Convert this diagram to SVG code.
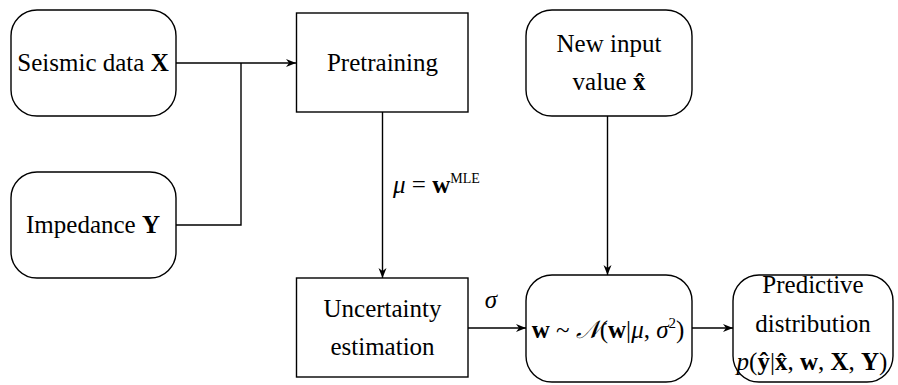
<svg xmlns="http://www.w3.org/2000/svg" width="898" height="385" viewBox="0 0 898 385">
<defs>
<marker id="arr" viewBox="0 0 10 10" refX="10" refY="5" markerWidth="10" markerHeight="10" markerUnits="userSpaceOnUse" orient="auto">
<path d="M0,1 L10,5 L0,9 L3,5 Z" fill="#000"/>
</marker>
</defs>
<style>
.box{fill:#fff;stroke:#000;stroke-width:1.4}
.c{fill:none;stroke:#000;stroke-width:1.4}
</style>
<rect width="898" height="385" fill="#fff"/>
<g id="connectors">
<path class="c" d="M176,63 H296" marker-end="url(#arr)"/>
<path class="c" d="M176,225 H241 V63"/>
<path class="c" d="M382.5,112 V278" marker-end="url(#arr)"/>
<path class="c" d="M468,328 H526" marker-end="url(#arr)"/>
<path class="c" d="M607.5,116 V275" marker-end="url(#arr)"/>
<path class="c" d="M692,328 H733" marker-end="url(#arr)"/>
<text font-family="Liberation Serif" font-size="25" x="393" y="193"><tspan font-style="italic">μ</tspan> = <tspan font-weight="bold">w</tspan><tspan font-size="14" dy="-10">MLE</tspan></text>
<text font-family="Liberation Serif" font-size="25" text-anchor="middle" font-style="italic" x="491" y="308">σ</text>
</g>
<g id="seismic">
<rect class="box" x="11" y="10" width="165" height="106" rx="26"/>
<text font-family="Liberation Serif" font-size="25" text-anchor="middle" x="93" y="71">Seismic data <tspan font-weight="bold">X</tspan></text>
</g>
<g id="impedance">
<rect class="box" x="11" y="172" width="165" height="106" rx="26"/>
<text font-family="Liberation Serif" font-size="25" text-anchor="middle" x="93" y="233">Impedance <tspan font-weight="bold">Y</tspan></text>
</g>
<g id="pretraining">
<rect class="box" x="296.5" y="13" width="171.5" height="99"/>
<text font-family="Liberation Serif" font-size="25" text-anchor="middle" x="382.5" y="71">Pretraining</text>
</g>
<g id="uncertainty">
<rect class="box" x="296.5" y="278" width="171.5" height="99"/>
<text font-family="Liberation Serif" font-size="25" text-anchor="middle" x="382.5" y="317">Uncertainty</text>
<text font-family="Liberation Serif" font-size="25" text-anchor="middle" x="382.5" y="355">estimation</text>
</g>
<g id="newinput">
<rect class="box" x="526" y="10" width="166" height="106" rx="26"/>
<text font-family="Liberation Serif" font-size="25" text-anchor="middle" x="609" y="52">New input</text>
<text font-family="Liberation Serif" font-size="25" text-anchor="middle" x="609" y="90">value <tspan font-weight="bold">x̂</tspan></text>
</g>
<g id="posterior">
<rect class="box" x="526" y="275" width="166" height="107" rx="26"/>
<text font-family="Liberation Serif" font-size="25" text-anchor="middle" x="608" y="338"><tspan font-weight="bold">w</tspan> ~ <tspan font-style="italic">𝒩</tspan>(<tspan font-weight="bold">w</tspan>|<tspan font-style="italic">μ</tspan>, <tspan font-style="italic">σ</tspan><tspan font-size="15" dy="-10">2</tspan><tspan dy="10">)</tspan></text>
</g>
<g id="predictive">
<rect class="box" x="733" y="275" width="160" height="107" rx="26"/>
<text font-family="Liberation Serif" font-size="25" text-anchor="middle" x="813" y="293">Predictive</text>
<text font-family="Liberation Serif" font-size="25" text-anchor="middle" x="813" y="332">distribution</text>
<text font-family="Liberation Serif" font-size="25" text-anchor="middle" x="812" y="370"><tspan font-style="italic">p</tspan>(<tspan font-weight="bold">ŷ</tspan>|<tspan font-weight="bold">x̂</tspan>, <tspan font-weight="bold">w</tspan>, <tspan font-weight="bold">X</tspan>, <tspan font-weight="bold">Y</tspan>)</text>
</g>
</svg>
